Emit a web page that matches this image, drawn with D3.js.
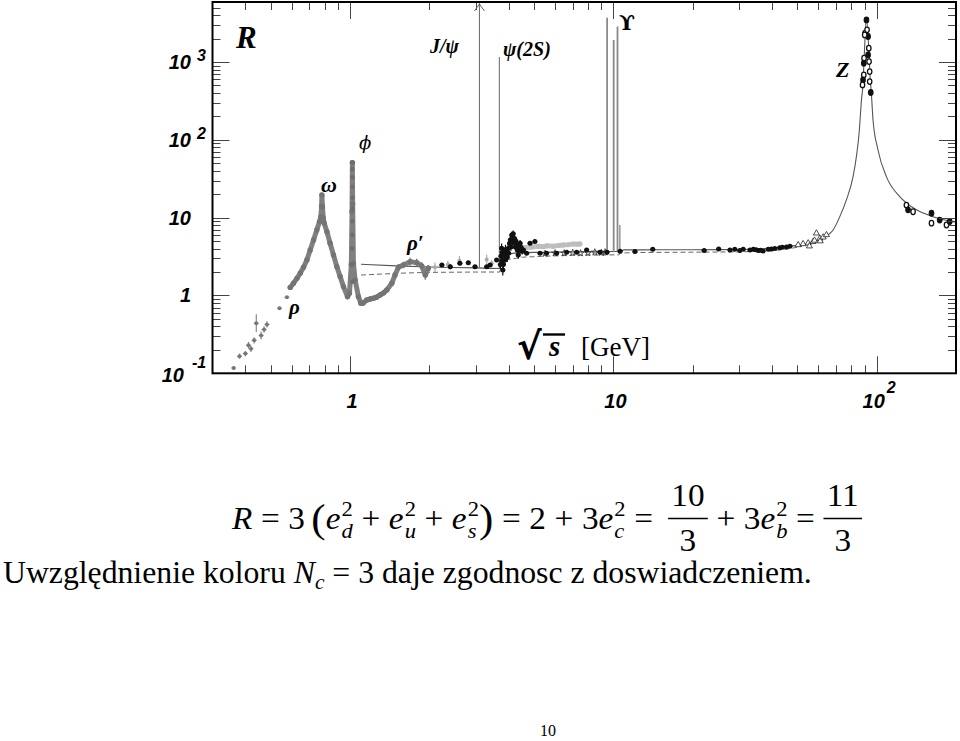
<!DOCTYPE html>
<html><head><meta charset="utf-8">
<script src="https://cdn.jsdelivr.net/npm/d3@7"></script>
<style>body{margin:0;background:#fff} svg{display:block}</style>
</head><body>
<svg id="c" width="960" height="741"></svg>
<script>
// ---------------- DATA (sqrt(s) in GeV, R) ----------------
const lowEnergyPts = [[0.361,0.117,0.06],[0.380,0.166,0.08],[0.400,0.179,0.08],[0.411,0.229,0.1],[0.420,0.207,0.1],[0.432,0.265,0.1],[0.440,0.44,0.3],[0.459,0.307,0.12],[0.471,0.366,0.1],[0.483,0.425,0.1],[0.539,0.687,0.04],[0.575,0.95,0.04]];
const bandPts = [[0.592,1.27,0.03],[0.609,1.44,0.03],[0.628,1.66,0.03],[0.646,1.93,0.03],[0.665,2.30,0.03],[0.685,2.86,0.03],[0.705,3.85,0.03],[0.726,5.17,0.03],[0.747,6.95,0.03],[0.765,8.9,0.03],[0.774,10.3,0.04],[0.779,14,0.05],[0.781,19.6,0.05],[0.785,13.8,0.05],[0.790,10,0.04],[0.797,8.5,0.03],[0.816,6.6,0.03],[0.839,4.69,0.03],[0.864,3.32,0.03],[0.890,2.34,0.03],[0.916,1.75,0.04],[0.943,1.30,0.05],[0.977,0.966,0.08],[0.994,1.07,0.06],[1.010,2.5,0.05],[1.0165,12,0.05],[1.0195,51,0.04],[1.022,15,0.05],[1.029,2.59,0.05],[1.044,1.58,0.06],[1.075,0.966,0.08],[1.098,0.794,0.08],[1.12,0.80,0.08],[1.157,0.875,0.08],[1.19,0.90,0.08],[1.226,0.92,0.08],[1.26,0.95,0.08],[1.30,1.015,0.08],[1.34,1.08,0.08],[1.378,1.18,0.08],[1.44,1.44,0.08],[1.48,1.83,0.08],[1.525,2.30,0.1],[1.594,2.47,0.1],[1.69,2.72,0.12],[1.79,2.64,0.12],[1.87,2.39,0.12],[1.93,1.83,0.15],[1.98,2.24,0.1]];
const phiPts = [[1.0195,1.5],[1.0195,2.5],[1.0195,4],[1.0195,6],[1.0195,9],[1.0195,13],[1.0195,18],[1.0195,25],[1.0195,33],[1.0195,42],[1.0195,51]];
const lightErrPts = [[2.35,2.5,0.12],[2.6,2.8,0.15],[3.3,2.9,0.15],[3.45,2.6,0.1],[2.1,2.3,0.15]];
const lightBandPts = [[4.6,4.1,0.05],[4.9,4.2,0.05],[5.2,4.3,0.05],[5.42,4.24,0.05],[5.6,4.35,0.05],[5.9,4.3,0.05],[6.2,4.4,0.05],[6.45,4.46,0.05],[6.75,4.5,0.05],[7.04,4.6,0.05],[7.3,4.55,0.05],[7.46,4.6,0.06]];
const blackPts = [[2.23,2.47,0.05],[2.40,2.34,0.08],[2.61,2.59,0.06],[2.81,2.64,0.06],[2.98,2.34,0.05],[3.30,2.34,0.04],[3.40,2.47,0.05],[3.60,2.86,0.05],
 [3.72,2.5,0.15],[3.74,3.2,0.15],[3.76,4.05,0.15],[3.77,2.8,0.15],[3.78,3.6,0.15],[3.80,2.13,0.18],[3.82,2.5,0.15],[3.84,3.3,0.15],[3.87,2.86,0.15],[3.89,3.9,0.15],[3.93,3.6,0.15],[3.95,3.1,0.15],[3.98,4.0,0.15],[4.0,3.5,0.15],[4.03,4.69,0.12],[4.06,5.2,0.12],[4.08,4.2,0.12],[4.11,6.0,0.1],[4.14,5.0,0.12],[4.16,6.2,0.1],[4.19,4.8,0.12],[4.21,5.4,0.1],[4.24,4.2,0.12],[4.26,5.0,0.12],[4.29,4.46,0.12],[4.32,3.8,0.12],[4.35,3.32,0.12],[4.38,3.9,0.12],[4.42,4.69,0.1],[4.45,4.2,0.1],[4.5,3.7,0.1],[4.55,3.85,0.08],[4.68,3.48,0.06],[4.82,4.69,0.06],[5.03,4.92,0.06],[5.26,3.48,0.04],[5.57,3.48,0.04],[6.08,3.48,0.04],[6.64,3.6,0.04],[7.25,3.6,0.04],[7.91,3.85,0.04],[8.89,3.6,0.03],[9.45,3.6,0.03],
 [10.6,3.7,0.03],[12.07,3.66,0.05],[14.1,3.93,0.05],[22.1,3.77,0.05],[25.1,3.96,0.05],[27.7,3.85,0.04],[28.9,3.93,0.04],[30.2,3.77,0.06],[31.1,3.93,0.04],[33.0,3.85,0.04],[34.0,3.93,0.04],[34.8,3.88,0.04],[35.5,3.77,0.04],[36.2,3.80,0.04],[37.0,3.72,0.04],[38.7,3.93,0.04],[39.8,3.95,0.04],[41.0,4.0,0.04],[42.8,4.1,0.04],[43.8,4.15,0.04],[45.4,4.2,0.04],[46.8,4.3,0.04]];
const starPts = [[5.5,3.45],[6.0,3.5],[6.5,3.5],[7.0,3.55],[7.5,3.5],[8.0,3.55],[8.5,3.6],[9.0,3.55],[9.3,3.6]];
const triPts = [[50.3,4.46],[52.5,4.6],[54.9,4.7],[55.5,4.3],[57.3,4.9],[58.0,5.1],[59.0,6.3],[60.8,5.4],[61.0,5.0],[62.6,5.6],[64.4,6.0]];
const zPts = [[91.4,3475],[90.3,2344],[91.9,2588],[92.7,2123],[90.0,2228],[93.3,1503],[92.7,1233],[89.5,1119],[93.5,1012],[89.3,966],[94.0,753],[89.3,683],[88.7,589],[94.0,560],[88.3,508],[94.9,405]];
const lep2Pts = [[129.6,14.5],[131.5,12.6],[137.4,11.9],[161.4,11.4],[161.4,8.5],[173.4,9.3],[184.0,8.05],[189.3,8.9]];
const qcdCurve = [[1.1,2.52],[1.5,2.40],[2,2.32],[3,2.26],[3.7,2.22],[3.78,3.0],[4.2,3.5],[5,3.58],[7,3.62],[9.5,3.66],[10.6,3.7],[11,3.85],[15,3.86],[20,3.87],[30,3.9],[40,4.05],[47,4.3],[54.1,4.6],[60,5.2],[64.4,5.8],[68.3,6.95],[72.4,10.3],[76.7,16.9],[81.3,33.7],[83.7,60.8],[85.7,121.6],[87.5,326],[88.7,534],[89.3,900],[90.2,1900],[91.3,3656],[93.3,1450],[94.2,700],[95.4,397],[96.8,180],[101.1,74],[108.8,33.7],[122.3,18.6],[141.5,12.6],[163.6,10.3],[194.8,8.9],[200,8.8]];
const partonCurve = [[1.1,1.83],[1.3,1.88],[1.6,1.94],[2,1.98],[3,2.0],[3.7,2.0],[3.74,2.4],[4,2.9],[4.5,3.1],[5.5,3.2],[7,3.28],[10.5,3.33],[10.6,3.5],[12,3.56],[20,3.6],[30,3.63],[40,3.75],[47,4.0],[52,4.3]];
const resMass = [3.097,3.686,9.46,10.02,10.36,10.58];
const resBase = [2.3,2.2,3.6,3.6,3.6,3.6];
const resPeak = [9000,1160,3690,1920,2850,8.05];
const xTickLabels = [[1,'1',''],[10,'10',''],[100,'10','2']];
const yTickLabels = [[0.1,'10','-1'],[1,'1',''],[10,'10',''],[100,'10','2'],[1000,'10','3']];

// ---------------- DRAWING ----------------
const svg = d3.select('#c');
const L=212.5, RR=956, T=2, B=373.3;
const x = d3.scaleLog().domain([0.3,200]).range([L,RR]);
const y = d3.scaleLog().domain([0.1,5900]).range([B,T]);
const serif = "'Liberation Serif','DejaVu Serif',serif";
const sans = "'Liberation Sans',Arial,sans-serif";

svg.append('clipPath').attr('id','clip').append('rect')
  .attr('x',L).attr('y',T).attr('width',RR-L).attr('height',B-T);
const plot = svg.append('g').attr('clip-path','url(#clip)');

// ticks
const isMajor = v => Math.abs(Math.log10(v)-Math.round(Math.log10(v)))<1e-6;
const tg = svg.append('g').attr('stroke','#444').attr('stroke-width',1);
x.ticks().filter(v=>v>0.3&&v<200).forEach(v=>{
  const len = isMajor(v)?17:8, xx=Math.round(x(v))+0.5;
  tg.append('line').attr('x1',xx).attr('x2',xx).attr('y1',B).attr('y2',B-len);
  tg.append('line').attr('x1',xx).attr('x2',xx).attr('y1',T).attr('y2',T+len);
});
y.ticks().filter(v=>v>0.1&&v<5900).forEach(v=>{
  const len = isMajor(v)?17:8, yy=Math.round(y(v))+0.5;
  tg.append('line').attr('x1',L).attr('x2',L+len).attr('y1',yy).attr('y2',yy);
  tg.append('line').attr('x1',RR).attr('x2',RR-len).attr('y1',yy).attr('y2',yy);
});

// theory curves
const line = d3.line().x(d=>x(d[0])).y(d=>y(d[1]));
plot.append('path').datum(partonCurve).attr('d',line).attr('fill','none')
  .attr('stroke','#666').attr('stroke-width',1).attr('stroke-dasharray','5,3');
plot.append('path').datum(qcdCurve).attr('d',line.curve(d3.curveMonotoneX)).attr('fill','none')
  .attr('stroke','#555').attr('stroke-width',1.1);
line.curve(d3.curveLinear);

// resonances
resMass.forEach((m,i)=>{
  const ups = m>9 && i<5;
  plot.append('line').attr('x1',x(m)).attr('x2',x(m)).attr('y1',y(resBase[i])).attr('y2',y(resPeak[i]))
    .attr('stroke', ups?'#8a8a8a':'#666').attr('stroke-width', ups?1.8:1);
});
{
  const ax=x(resMass[0]);
  svg.append('path').attr('d',`M${ax-5},${T+9}L${ax},${T+2}L${ax+5},${T+9}`)
    .attr('fill','none').attr('stroke','#666').attr('stroke-width',1);
}

function errBars(g,data,color,w){
  g.selectAll(null).data(data).enter().append('line')
    .attr('x1',d=>x(d[0])).attr('x2',d=>x(d[0]))
    .attr('y1',d=>y(d[1]*(1+d[2]))).attr('y2',d=>y(d[1]/(1+d[2])))
    .attr('stroke',color).attr('stroke-width',w);
}
function dots(g,data,r,fill,stroke,sw){
  g.selectAll(null).data(data).enter().append('circle')
    .attr('cx',d=>x(d[0])).attr('cy',d=>y(d[1])).attr('r',r)
    .attr('fill',fill).attr('stroke',stroke||'none').attr('stroke-width',sw||0);
}

errBars(plot,lowEnergyPts,'#888',1.2);
plot.selectAll(null).data(lowEnergyPts).enter().append('line')
  .attr('x1',d=>x(d[0])-2.5).attr('x2',d=>x(d[0])+2.5).attr('y1',d=>y(d[1])).attr('y2',d=>y(d[1]))
  .attr('stroke','#888').attr('stroke-width',1);
dots(plot,lowEnergyPts,2,'#777');

plot.append('path').datum(bandPts).attr('d',line).attr('fill','none')
  .attr('stroke','#808080').attr('stroke-width',5).attr('stroke-linejoin','round').attr('stroke-linecap','round');
errBars(plot,bandPts,'#7d7d7d',1.5);
dots(plot,bandPts,2.7,'#747474');
dots(plot,phiPts,2.3,'#6e6e6e');

errBars(plot,lightErrPts,'#aaa',1.2);
dots(plot,lightErrPts,2,'#aaa');
plot.append('path').datum(lightBandPts).attr('d',line).attr('fill','none')
  .attr('stroke','#c4c4c4').attr('stroke-width',5).attr('stroke-linecap','round');
errBars(plot,lightBandPts,'#bbb',1.5);
dots(plot,lightBandPts,2.5,'#bdbdbd');

plot.selectAll(null).data(starPts).enter().append('path')
  .attr('d',d3.symbol(d3.symbolStar,14)).attr('transform',d=>`translate(${x(d[0])},${y(d[1])})`)
  .attr('fill','none').attr('stroke','#333').attr('stroke-width',0.8);

errBars(plot,blackPts,'#111',1.2);
plot.selectAll(null).data(blackPts).enter().append('line')
  .attr('x1',d=>x(d[0])-2.5).attr('x2',d=>x(d[0])+2.5).attr('y1',d=>y(d[1])).attr('y2',d=>y(d[1]))
  .attr('stroke','#111').attr('stroke-width',1);
dots(plot,blackPts,2.5,'#111');

plot.selectAll(null).data(triPts).enter().append('path')
  .attr('d',d3.symbol(d3.symbolTriangle,16)).attr('transform',d=>`translate(${x(d[0])},${y(d[1])})`)
  .attr('fill','#fff').attr('stroke','#222').attr('stroke-width',0.8);

plot.selectAll(null).data(zPts).enter().append('ellipse')
  .attr('cx',d=>x(d[0])).attr('cy',d=>y(d[1])).attr('rx',2.2).attr('ry',2.8)
  .attr('fill',(d,i)=>i%3===0?'#111':'#fff').attr('stroke','#111').attr('stroke-width',1.3);
plot.selectAll(null).data(lep2Pts).enter().append('ellipse')
  .attr('cx',d=>x(d[0])).attr('cy',d=>y(d[1])).attr('rx',2.2).attr('ry',2.8)
  .attr('fill',(d,i)=>i%2?'#111':'#fff').attr('stroke','#111').attr('stroke-width',1.3);

svg.append('rect').attr('x',L).attr('y',T).attr('width',RR-L).attr('height',B-T)
  .attr('fill','none').attr('stroke','#000').attr('stroke-width',2);

// tick labels
const lab = svg.append('g').style('font-family',sans).style('font-weight','bold').style('font-style','italic').attr('fill','#000');
yTickLabels.forEach(([v,b,e])=>{
  const neg = e.startsWith('-');
  const bx = e? (neg?184:191):191;
  const by = y(v)+7+(neg?2:0);
  lab.append('text').attr('x',bx).attr('y',by).attr('text-anchor','end').style('font-size','20px').text(b);
  if(e) lab.append('text').attr('x',bx+(neg?8:6)).attr('y',by-(neg?14:8)).style('font-size','16px').text(e);
});
xTickLabels.forEach(([v,b,e])=>{
  const bx = x(v) + (e?-3:2);
  lab.append('text').attr('x',bx).attr('y',408).attr('text-anchor','middle').style('font-size','20px').text(b);
  if(e) lab.append('text').attr('x',bx+13).attr('y',393).style('font-size','16px').text(e);
});

// annotations
function ann(tx,xx,yy,size,weight,style,anchor){
  return svg.append('text').attr('x',xx).attr('y',yy).style('font-family',serif)
    .style('font-size',size+'px').style('font-weight',weight).style('font-style',style)
    .attr('text-anchor',anchor||'start').text(tx);
}
ann('R',236,48,31,'bold','italic');
ann('J/ψ',430,53,20,'bold','italic');
ann('ψ(2S)',503,56,20,'bold','italic');
svg.append('text').attr('x',619).attr('y',30).style('font-family',"'DejaVu Serif',serif").style('font-size','21px').style('font-weight','bold').text('ϒ');
ann('Z',836,77,22,'bold','italic');
svg.append('text').attr('x',359).attr('y',149).style('font-family',"'DejaVu Serif',serif").style('font-size','18px').style('font-style','italic').text('ϕ');
ann('ω',321,192,22,'bold','italic');
ann('ρ′',407,250,21,'bold','italic');
ann('ρ',289,314,21,'bold','italic');
// sqrt(s) [GeV]
svg.append('text').attr('x',517).attr('y',359).style('font-family',"'DejaVu Sans',sans-serif").style('font-size','37px').style('font-weight','bold').text('√');
svg.append('line').attr('x1',543).attr('x2',565).attr('y1',334.5).attr('y2',334.5).attr('stroke','#000').attr('stroke-width',2.4);
ann('s',549,356,29,'bold','italic');
ann('[GeV]',581,356,27,'normal','normal');

// formula: laid out piece by piece
function buildFormula(){
  const g = svg.append('g');
  const fs=31, ss=21;
  let cx=0;
  function put(s,o={}){
    const t=g.append('text').attr('x',cx).attr('y',o.y||0).style('font-family',serif)
      .style('font-size',(o.sz||fs)+'px').text(s);
    if(o.i) t.style('font-style','italic');
    const w=t.node().getComputedTextLength();
    if(!o.noadv) cx+=w;
    return w;
  }
  const gap=n=>{cx+=n;};
  function esq(sub){
    put('e',{i:1});
    const x0=cx+1; cx=x0;
    const w1=put('2',{sz:ss,y:-13,noadv:1});
    const w2=put(sub,{sz:ss,y:9,i:1,noadv:1});
    cx=x0+Math.max(w1,w2);
  }
  function op(s){gap(8);put(s);gap(8);}
  function frac(num,den){
    const x0=cx;
    const tn=g.append('text').attr('y',-23).attr('text-anchor','middle').style('font-family',serif).style('font-size',fs+'px').text(num);
    const w=tn.node().getComputedTextLength()+6;
    tn.attr('x',x0+w/2);
    g.append('text').attr('x',x0+w/2).attr('y',22).attr('text-anchor','middle').style('font-family',serif).style('font-size',fs+'px').text(den);
    g.append('line').attr('x1',x0).attr('x2',x0+w).attr('y1',-10.5).attr('y2',-10.5).attr('stroke','#000').attr('stroke-width',1.3);
    cx=x0+w;
  }
  put('R',{i:1}); op('='); put('3'); gap(6); put('(',{sz:40,y:3}); esq('d'); op('+'); esq('u'); op('+'); esq('s');
  put(')',{sz:40,y:3}); op('='); put('2'); op('+'); put('3'); esq('c'); op('=');
  gap(6); frac('10','3'); op('+'); put('3'); esq('b'); op('='); frac('11','3');
  const sx = 630/cx;
  g.attr('transform',`translate(232,529) scale(${sx},1)`);
}
buildFormula();

function buildText(){
  const g = svg.append('g');
  const t = g.append('text').attr('x',0).attr('y',0).style('font-family',serif).style('font-size','31px').style('white-space','pre');
  t.append('tspan').text('Uwzględnienie koloru ');
  t.append('tspan').text('N').style('font-style','italic');
  t.append('tspan').text('c').style('font-style','italic').style('font-size','21px').attr('dy',6);
  t.append('tspan').text(' = 3 daje zgodnosc z doswiadczeniem.').attr('dy',-6);
  const bb=t.node().getBBox();
  const sx = 809/(bb.x+bb.width);
  g.attr('transform',`translate(3,583) scale(${sx},1)`);
}
buildText();

svg.append('text').attr('x',548).attr('y',736).attr('text-anchor','middle')
  .style('font-family',serif).style('font-size','16px').text('10');
</script>
</body></html>
